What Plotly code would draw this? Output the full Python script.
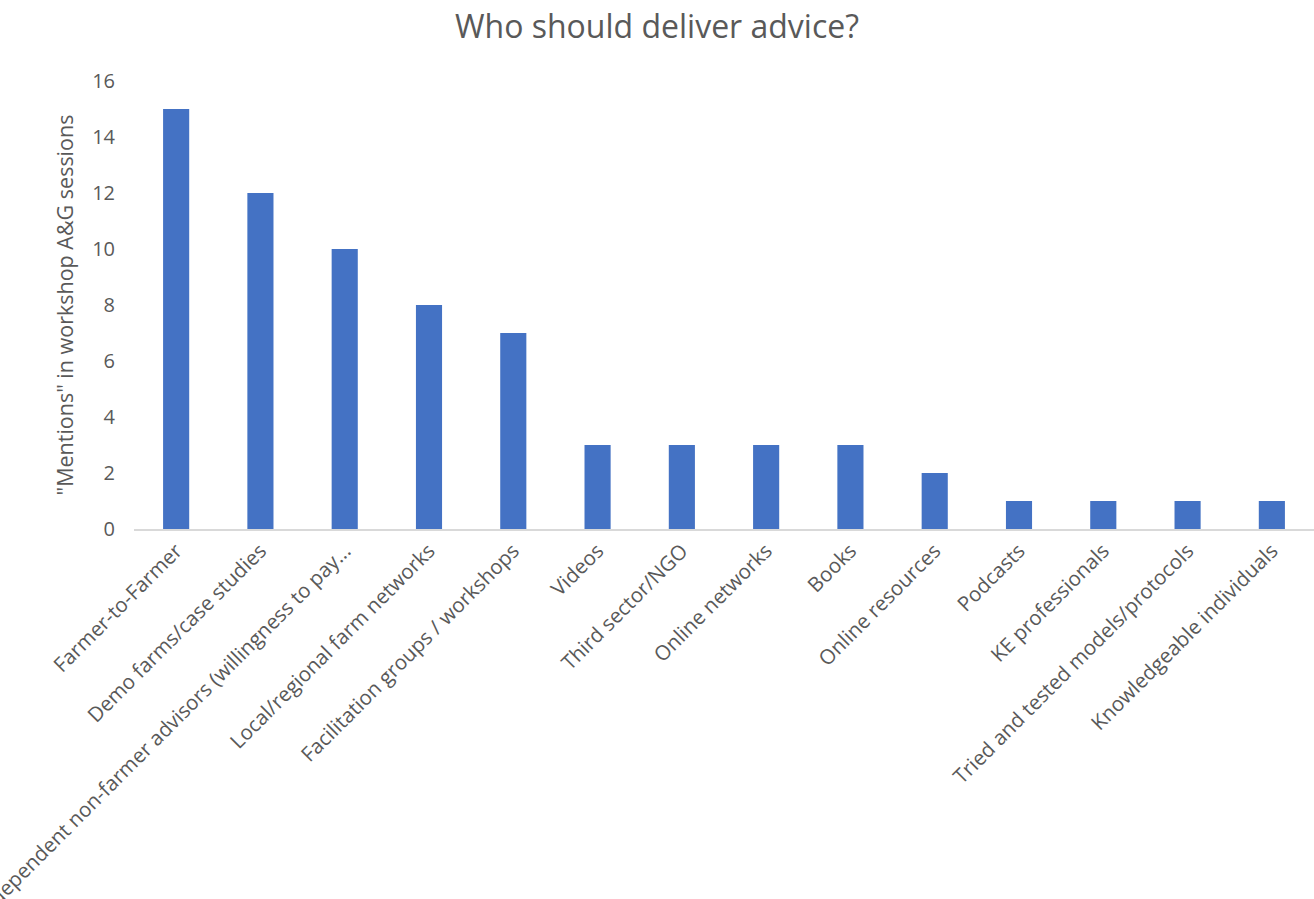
import plotly.graph_objects as go

categories = [
    "Farmer-to-Farmer",
    "Demo farms/case studies",
    "Independent non-farmer advisors (willingness to pay...",
    "Local/regional farm networks",
    "Facilitation groups / workshops",
    "Videos",
    "Third sector/NGO",
    "Online networks",
    "Books",
    "Online resources",
    "Podcasts",
    "KE professionals",
    "Tried and tested models/protocols",
    "Knowledgeable individuals",
]
mentions = [15, 12, 10, 8, 7, 3, 3, 3, 3, 2, 1, 1, 1, 1]
y_ticks = [0, 2, 4, 6, 8, 10, 12, 14, 16]

text_color = "#595959"
font_family = "Open Sans, Noto Sans, sans-serif"

fig = go.Figure(
    go.Bar(
        x=categories,
        y=mentions,
        marker=dict(color="#4472C4", line=dict(width=0)),
        width=0.31,
    )
)

fig.update_layout(
    width=1314,
    height=899,
    margin=dict(l=134, r=0, t=81, b=370),
    paper_bgcolor="white",
    plot_bgcolor="white",
    font=dict(family=font_family, color=text_color, size=20),
    title=dict(
        text="Who should deliver advice?",
        x=0.5,
        xanchor="center",
        y=0.970,
        yanchor="middle",
        font=dict(size=32, color=text_color),
    ),
    showlegend=False,
)

fig.update_xaxes(
    tickangle=-45,
    tickfont=dict(size=20.5, color=text_color),
    showline=True,
    linecolor="#D9D9D9",
    linewidth=1.5,
    showgrid=False,
    ticks="",
    automargin=False,
)

fig.update_yaxes(
    range=[0, 16],
    tickvals=y_ticks,
    tickfont=dict(size=20, color=text_color),
    showgrid=False,
    zeroline=False,
    showline=False,
    ticks="",
    ticklabelstandoff=18,
    title=dict(
        text='"Mentions" in workshop A&G sessions',
        font=dict(size=21.5, color=text_color),
        standoff=12,
    ),
    automargin=False,
)

fig.write_html("out.html")
